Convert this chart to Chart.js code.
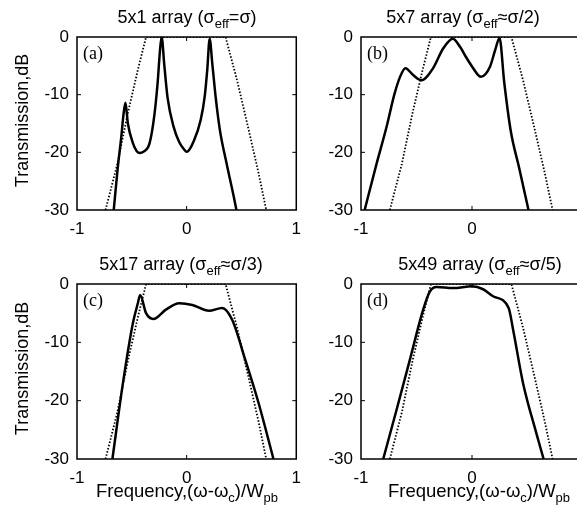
<!DOCTYPE html>
<html>
<head>
<meta charset="utf-8">
<script src="https://cdn.jsdelivr.net/npm/chart.js@4.4.1/dist/chart.umd.min.js"></script>
<style>
  html, body { margin: 0; padding: 0; background: #fff; overflow: hidden; width: 577px; height: 524px; }
  .panel { position: absolute; }
</style>
</head>
<body>
<div class="panel" id="pa" style="left:0;top:0;width:310px;height:250px"><canvas id="ca"></canvas></div>
<div class="panel" id="pb" style="left:290px;top:0;width:310px;height:250px"><canvas id="cb"></canvas></div>
<div class="panel" id="pc" style="left:0;top:250px;width:310px;height:260px"><canvas id="cc"></canvas></div>
<div class="panel" id="pd" style="left:290px;top:250px;width:310px;height:260px"><canvas id="cd"></canvas></div>
<script>
// axis ticks
const xTicks = [-1, 0, 1];
const yTicks = [0, -10, -20, -30];

// ideal response (dotted), same in every panel
const refX = [-0.74, -0.632, -0.536, -0.445, -0.37, 0.355, 0.46, 0.566, 0.656, 0.726];
const refY = [-30, -22, -13.2, -5.7, 0, 0, -7.5, -16.1, -23.6, -30];

// (a) 5x1 array
const aX = [-0.665, -0.63, -0.596, -0.575, -0.558, -0.536, -0.49, -0.455, -0.425, -0.385, -0.339, -0.294, -0.264, -0.243, -0.228, -0.204, -0.174, -0.12, -0.068, -0.023, 0.0, 0.068, 0.128, 0.165, 0.188, 0.21, 0.234, 0.264, 0.303, 0.364, 0.43, 0.454];
const aY = [-30, -23, -17.3, -13.3, -11.4, -15, -18.4, -19.8, -20.1, -19.8, -18.5, -13.5, -7.8, -2.3, 0, -4.8, -10.5, -15.5, -18.2, -19.5, -19.9, -17.9, -14.4, -10.3, -5.7, -0.3, -4.6, -10.3, -16.1, -21.9, -27.7, -30];

// (b) 5x7 array
const bX = [-0.967, -0.86, -0.77, -0.7, -0.65, -0.6, -0.53, -0.456, -0.35, -0.26, -0.173, -0.108, -0.05, 0.0, 0.08, 0.163, 0.208, 0.248, 0.29, 0.35, 0.425, 0.509];
const bY = [-30, -22, -15.6, -10, -7, -5.4, -6.6, -7.5, -5.4, -2.0, -0.3, -1.7, -3.6, -5.1, -6.9, -5.1, -2.3, -0.2, -7.8, -16.4, -22.7, -30];

// (c) 5x17 array
const cX = [-0.677, -0.581, -0.49, -0.445, -0.424, -0.37, -0.303, -0.189, -0.068, 0.052, 0.204, 0.324, 0.414, 0.535, 0.656, 0.792];
const cY = [-30, -17, -6.7, -3.3, -1.9, -5.0, -6.0, -4.4, -3.3, -3.6, -4.6, -4.1, -6.1, -13, -20.4, -30];

// (d) 5x49 array
const dX = [-0.8, -0.68, -0.56, -0.44, -0.38, -0.32, -0.17, 0.0, 0.1, 0.19, 0.33, 0.37, 0.46, 0.58, 0.645];
const dY = [-30, -21.6, -13, -4.4, -1.3, -0.5, -0.7, -0.4, -0.9, -2.1, -4.1, -7.8, -17, -25.6, -30];

const FONT = "'Liberation Sans', Arial, Helvetica, sans-serif";

function pts(xs, ys) {
    return xs.map((x, i) => ({ x: x, y: ys[i] }));
}

function drawRich(ctx, parts, x, y, size, align) {
    const sub = Math.round(size * 0.72);
    let w = 0;
    parts.forEach(p => {
        ctx.font = (p[1] ? sub : size) + 'px ' + FONT;
        w += ctx.measureText(p[0]).width;
    });
    let cx = align === 'center' ? x - w / 2 : x;
    ctx.textAlign = 'left';
    ctx.textBaseline = 'alphabetic';
    parts.forEach(p => {
        ctx.font = (p[1] ? sub : size) + 'px ' + FONT;
        ctx.fillText(p[0], cx, p[1] ? y + 5 : y);
        cx += ctx.measureText(p[0]).width;
    });
}

const decorPlugin = {
    id: 'decor',
    afterDraw(chart) {
        const o = chart.options.plugins.decor;
        const ctx = chart.ctx;
        const a = chart.chartArea;
        const xs = chart.scales.x, ys = chart.scales.y;
        ctx.save();
        ctx.strokeStyle = '#000';
        ctx.fillStyle = '#000';
        ctx.lineWidth = 1.5;
        ctx.strokeRect(a.left, a.top, a.right - a.left, a.bottom - a.top);
        // inner ticks
        ctx.lineWidth = 1;
        ctx.beginPath();
        [-10, -20].forEach(v => {
            const py = ys.getPixelForValue(v);
            ctx.moveTo(a.left, py); ctx.lineTo(a.left + 4, py);
            ctx.moveTo(a.right, py); ctx.lineTo(a.right - 4, py);
        });
        const px = xs.getPixelForValue(0);
        ctx.moveTo(px, a.top); ctx.lineTo(px, a.top + 4);
        ctx.moveTo(px, a.bottom); ctx.lineTo(px, a.bottom - 4);
        ctx.stroke();
        // panel letter
        ctx.font = "18px 'Liberation Serif', 'Times New Roman', serif";
        ctx.textAlign = 'left';
        ctx.textBaseline = 'alphabetic';
        ctx.fillText(o.letter, a.left + 6, a.top + 22);
        // title
        drawRich(ctx, o.title, o.titleX, a.top - 14, 18, 'center');
        // y title
        if (o.yTitle) {
            ctx.save();
            ctx.translate(o.yTitleX, (a.top + a.bottom) / 2 - 3);
            ctx.rotate(-Math.PI / 2);
            ctx.font = '18px ' + FONT;
            ctx.textAlign = 'center';
            ctx.textBaseline = 'middle';
            ctx.fillText('Transmission,dB', 0, 0);
            ctx.restore();
        }
        // x title
        if (o.xTitle) {
            drawRich(ctx, [['Frequency,(ω-ω', 0], ['c', 1], [')/W', 0], ['pb', 1]], o.xTitleX, a.bottom + 38, 18.5, 'center');
        }
        ctx.restore();
    }
};

function makePanel(id, xs, ys, cfg) {
    const ctx = document.getElementById(id).getContext('2d');
    return new Chart(ctx, {
        type: 'line',
        data: {
            datasets: [
                {
                    data: pts(refX, refY),
                    borderColor: '#000', borderWidth: 1.8, borderDash: [1.5, 1.8],
                    pointRadius: 0, fill: false, tension: 0, clip: 0
                },
                {
                    data: pts(xs, ys),
                    borderColor: '#000', borderWidth: 2.5,
                    pointRadius: 0, fill: false, cubicInterpolationMode: 'monotone', clip: 0
                }
            ]
        },
        options: {
            responsive: true, maintainAspectRatio: false, animation: false,
            layout: { padding: { top: cfg.padTop, right: cfg.padRight, left: 0, bottom: 0 } },
            plugins: {
                legend: { display: false }, tooltip: { enabled: false },
                decor: cfg
            },
            scales: {
                x: {
                    type: 'linear', min: -1, max: 1,
                    afterBuildTicks: s => { s.ticks = xTicks.map(v => ({ value: v })); },
                    afterFit: s => { s.height = cfg.xh; },
                    grid: { display: false, drawTicks: false }, border: { display: false },
                    ticks: { color: '#000', font: { family: FONT, size: 17 }, padding: 9, maxRotation: 0, autoSkip: false }
                },
                y: {
                    type: 'linear', min: -30, max: 0,
                    afterBuildTicks: s => { s.ticks = yTicks.map(v => ({ value: v })); },
                    afterFit: s => { s.width = cfg.yw; },
                    grid: { display: false, drawTicks: false }, border: { display: false },
                    ticks: { color: '#000', font: { family: FONT, size: 17 }, padding: 8, autoSkip: false }
                }
            }
        },
        plugins: [decorPlugin]
    });
}

makePanel('ca', aX, aY, {
    letter: '(a)', padTop: 37, padRight: 12, yw: 77, xh: 40,
    title: [['5x1 array (σ', 0], ['eff', 1], ['=σ)', 0]], titleX: 187,
    yTitle: true, yTitleX: 23
});
makePanel('cb', bX, bY, {
    letter: '(b)', padTop: 37, padRight: 17, yw: 71, xh: 40,
    title: [['5x7 array (σ', 0], ['eff', 1], ['≈σ/2)', 0]], titleX: 173
});
makePanel('cc', cX, cY, {
    letter: '(c)', padTop: 34, padRight: 12, yw: 77, xh: 51,
    title: [['5x17 array (σ', 0], ['eff', 1], ['≈σ/3)', 0]], titleX: 181,
    yTitle: true, yTitleX: 23, xTitle: true, xTitleX: 187
});
makePanel('cd', dX, dY, {
    letter: '(d)', padTop: 34, padRight: 17, yw: 71, xh: 51,
    title: [['5x49 array (σ', 0], ['eff', 1], ['≈σ/5)', 0]], titleX: 190,
    xTitle: true, xTitleX: 189
});
</script>
</body>
</html>
